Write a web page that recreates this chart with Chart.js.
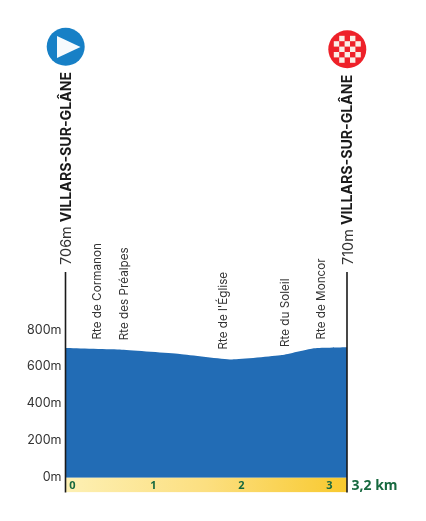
<!DOCTYPE html>
<html><head><meta charset="utf-8">
<style>html,body{margin:0;padding:0;background:#fff}#w{position:absolute;left:0;top:0;width:426px;height:521px}</style>
<script src="https://cdn.jsdelivr.net/npm/chart.js@4"></script>
</head><body><div id="w"><canvas id="c"></canvas></div>
<script>
const profileKm = [0, 0.64, 1.3, 1.89, 2.46, 2.81, 3.2];
const profileElevation = [706, 697, 674, 644, 668, 704, 710];
const yTicks = [0, 200, 400, 600, 800];
const kmTicks = [0, 1, 2, 3];
const totalLabel = '3,2 km';
const placeNames = ['Rte de Cormanon', 'Rte des Préalpes', "Rte de l'Église", 'Rte du Soleil', 'Rte de Moncor'];
const placeKm = [0.365, 0.67, 1.8, 2.5, 2.91];
const placeElevation = [701, 697, 646, 660, 701];
const startName = 'VILLARS-SUR-GLÂNE';
const endName = 'VILLARS-SUR-GLÂNE';
const startElevation = '706m';
const endElevation = '710m';

const TXT = '#333333', GREEN = '#17693f';
const annot = {
  id: 'annot',
  afterDatasetsDraw(ch) {
    const g = ch.ctx, x = ch.scales.x, y = ch.scales.y, a = ch.chartArea;
    const L = x.getPixelForValue(0), R = x.getPixelForValue(3.2);
    g.save();
    g.strokeStyle = '#1a1a1a'; g.lineWidth = 1.6;
    [L, R].forEach(px => { g.beginPath(); g.moveTo(px, a.top); g.lineTo(px, a.bottom); g.stroke(); });
    g.fillStyle = GREEN; g.textBaseline = 'middle'; g.textAlign = 'center';
    g.font = 'bold 11px "Open Sans"';
    kmTicks.forEach(k => g.fillText(String(k), x.getPixelForValue(k) + (k === 0 ? 7 : 0), a.bottom - 6.6));
    g.textAlign = 'left'; g.font = 'bold 14px "Open Sans"';
    g.fillText(totalLabel, R + 4.5, a.bottom - 6.8);
    g.fillStyle = '#333'; g.font = '11.7px "Inter"'; g.textAlign = 'left'; g.textBaseline = 'middle';
    placeNames.forEach((n, i) => {
      g.save(); g.translate(x.getPixelForValue(placeKm[i]), y.getPixelForValue(placeElevation[i]) - 9.5);
      g.rotate(-Math.PI / 2); g.fillText(n, 0, 0); g.restore();
    });
    const titled = (px, alt, nm) => {
      g.save(); g.translate(px, a.top - 7); g.rotate(-Math.PI / 2);
      g.textBaseline = 'middle'; g.textAlign = 'left';
      g.font = '14.5px "Inter"'; g.fillStyle = '#333'; g.fillText(alt, 0, 0);
      const w = g.measureText(alt).width;
      g.font = 'bold 14.15px "Inter"'; g.fillStyle = '#1a1a1a'; g.fillText(nm, w + 4, 0);
      g.restore();
    };
    titled(L + 1.2, startElevation, startName);
    titled(R + 1.2, endElevation, endName);
    g.fillStyle = '#1780c6'; g.beginPath(); g.arc(65.7, 46.7, 19, 0, 7); g.fill();
    g.fillStyle = '#f6fafd'; g.beginPath(); g.moveTo(57, 36); g.lineTo(80.5, 47); g.lineTo(57, 58); g.closePath(); g.fill();
    const cx = 347.3, cy = 49.3, r = 19;
    g.fillStyle = '#ee2129'; g.beginPath(); g.arc(cx, cy, r, 0, 7); g.fill();
    g.fillStyle = '#fbeee6'; const s = 5.4;
    for (let i = -2; i <= 2; i++) for (let j = -2; j <= 2; j++)
      if ((i + j) % 2 !== 0) g.fillRect(cx + (i - .5) * s, cy + (j - .5) * s, s, s);
    g.restore();
  }
};
const ctx = document.getElementById('c').getContext('2d');
const band = ctx.createLinearGradient(65, 0, 347, 0);
band.addColorStop(0, '#fdf0b4'); band.addColorStop(.5, '#fcdf80'); band.addColorStop(1, '#f8c92e');
new Chart(ctx, {
  type: 'line',
  data: { datasets: [
    { data: profileKm.map((k, i) => ({ x: k, y: profileElevation[i] })), borderWidth: 0, pointRadius: 0, tension: 0.15,
      fill: { target: { value: 0 } }, backgroundColor: '#226cb5', order: 2 },
    { data: [{ x: 0, y: 0 }, { x: 3.2, y: 0 }], borderWidth: 0, pointRadius: 0, fill: 'start', backgroundColor: band, order: 1 }
  ] },
  options: {
    responsive: true, maintainAspectRatio: false, animation: false, devicePixelRatio: 1,
    layout: { padding: { left: 0, right: 79, top: 272, bottom: 28.5 } },
    plugins: { legend: { display: false }, tooltip: { enabled: false } },
    scales: {
      x: { type: 'linear', min: 0, max: 3.2, display: false },
      y: { min: -80, max: 1120,
        afterBuildTicks: s => { s.ticks = yTicks.map(v => ({ value: v })); },
        afterFit: s => { s.width = 65.5; },
        grid: { display: false, drawTicks: false }, border: { display: false },
        ticks: { callback: v => v + 'm', color: TXT, font: { family: 'Inter', size: 12.5 }, padding: 4, labelOffset: -1, autoSkip: false }
      }
    }
  },
  plugins: [annot]
});
</script></body></html>
